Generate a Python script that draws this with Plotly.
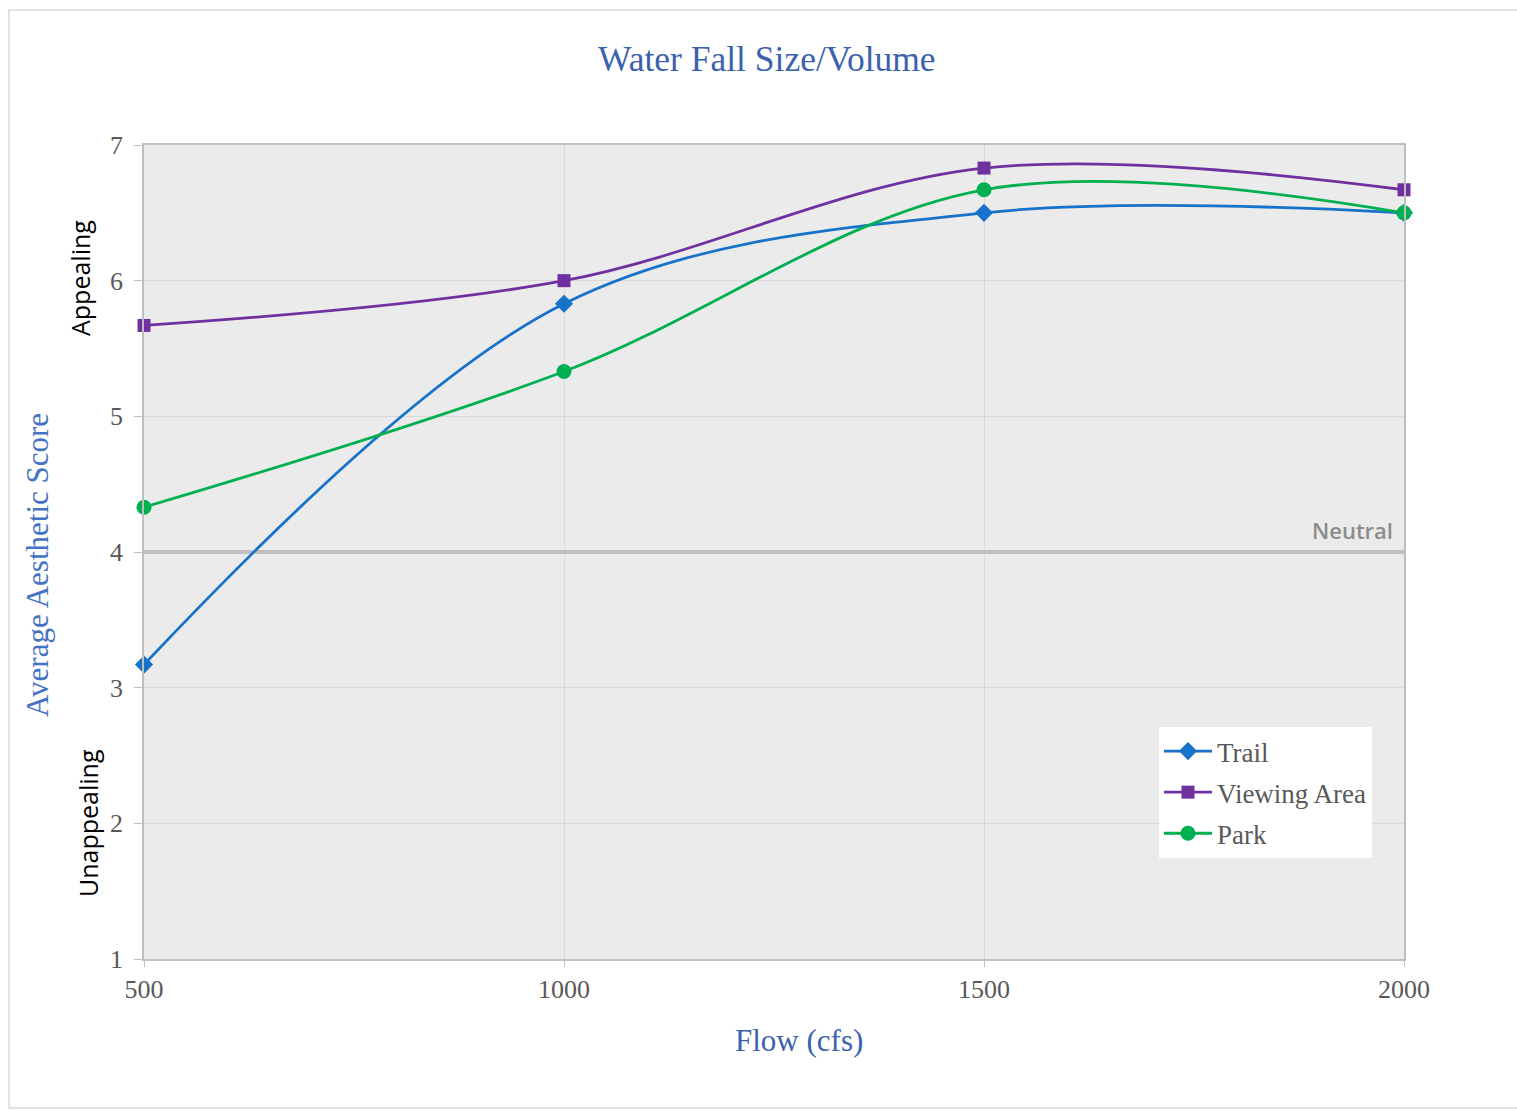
import plotly.graph_objects as go

flow = [500, 1000, 1500, 2000]
trail = [3.17, 5.83, 6.5, 6.5]
viewing_area = [5.67, 6.0, 6.83, 6.67]
park = [4.33, 5.33, 6.67, 6.5]
neutral_value = 4
y_ticks = [1, 2, 3, 4, 5, 6, 7]

W, H = 1517, 1110
L, R, T, B = 144, 1404, 145, 959


def px(x):
    return (x - L) / (R - L)


def py(y):
    return (B - y) / (B - T)


fig = go.Figure()

# Neutral reference line (drawn first: above grid, below series)
fig.add_trace(go.Scatter(
    x=[flow[0], flow[-1]], y=[neutral_value, neutral_value],
    mode="lines", line=dict(color="#BFBFBF", width=4),
    showlegend=False, hoverinfo="skip",
))

series = [
    ("Trail", trail, "#1772C9", "diamond", 14),
    ("Viewing Area", viewing_area, "#7030A0", "square", 13),
    ("Park", park, "#00B050", "circle", 15),
]
for name, vals, col, sym, size in series:
    fig.add_trace(go.Scatter(
        x=flow, y=vals, name=name, mode="lines+markers",
        line=dict(color=col, width=2.8, shape="spline", smoothing=1),
        marker=dict(symbol=sym, size=size, color=col),
        cliponaxis=False, legendgroup=name,
    ))

# outer frame
fig.add_shape(type="rect", xref="paper", yref="paper",
              x0=px(9), x1=px(1530), y0=py(10), y1=py(1108),
              line=dict(color="#D9D9D9", width=1.5), layer="below")

serif = "Liberation Serif, Times New Roman, serif"
blue = "#3A62AE"
gray = "#595959"

annotations = [
    dict(text="Water Fall Size/Volume", x=px(767), y=py(59),
         font=dict(family=serif, size=35.5, color=blue)),
    dict(text="Flow (cfs)", x=px(799), y=py(1040),
         font=dict(family=serif, size=31, color=blue)),
    dict(text="Average Aesthetic Score", x=px(37), y=py(565), textangle=-90,
         font=dict(family=serif, size=31, color="#4472C4")),
    dict(text="Appealing", x=px(80), y=py(278), textangle=-90,
         font=dict(family="Open Sans, sans-serif", size=25, color="#000000")),
    dict(text="Unappealing", x=px(88), y=py(823), textangle=-90,
         font=dict(family="Open Sans, sans-serif", size=25, color="#000000")),
]
anns = []
for a in annotations:
    a.update(xref="paper", yref="paper", showarrow=False,
             xanchor="center", yanchor="middle")
    anns.append(a)
anns.append(dict(text="Neutral", xref="paper", x=px(1395), yref="y",
                 y=neutral_value, xanchor="right", yanchor="bottom", yshift=5,
                 showarrow=False,
                 font=dict(family="Open Sans, sans-serif", size=22,
                           color="#8C8C8C", weight=600)))

fig.update_layout(
    width=W, height=H,
    margin=dict(l=L, r=W - R, t=T, b=H - B, pad=0),
    paper_bgcolor="white", plot_bgcolor="#EBEBEB",
    annotations=anns,
    showlegend=True,
    legend=dict(x=px(1159), y=py(727), xanchor="left", yanchor="top",
                bgcolor="white", borderwidth=0, tracegroupgap=3,
                font=dict(family=serif, size=27, color=gray),
                itemwidth=48),
    xaxis=dict(range=[500, 2000], tickvals=flow, showgrid=True,
               gridcolor="#D9D9D9", gridwidth=1, zeroline=False,
               showline=True, linecolor="#BFBFBF", linewidth=1.5, mirror=True,
               ticks="outside", ticklen=6, tickcolor="#BFBFBF",
               tickfont=dict(family=serif, size=26, color=gray)),
    yaxis=dict(range=[1, 7], tickvals=y_ticks, showgrid=True,
               gridcolor="#D9D9D9", gridwidth=1, zeroline=False,
               showline=True, linecolor="#BFBFBF", linewidth=1.5, mirror=True,
               ticks="outside", ticklen=8, tickcolor="#BFBFBF",
               ticklabelstandoff=6,
               tickfont=dict(family=serif, size=26, color=gray)),
)

fig.write_html("out.html")
